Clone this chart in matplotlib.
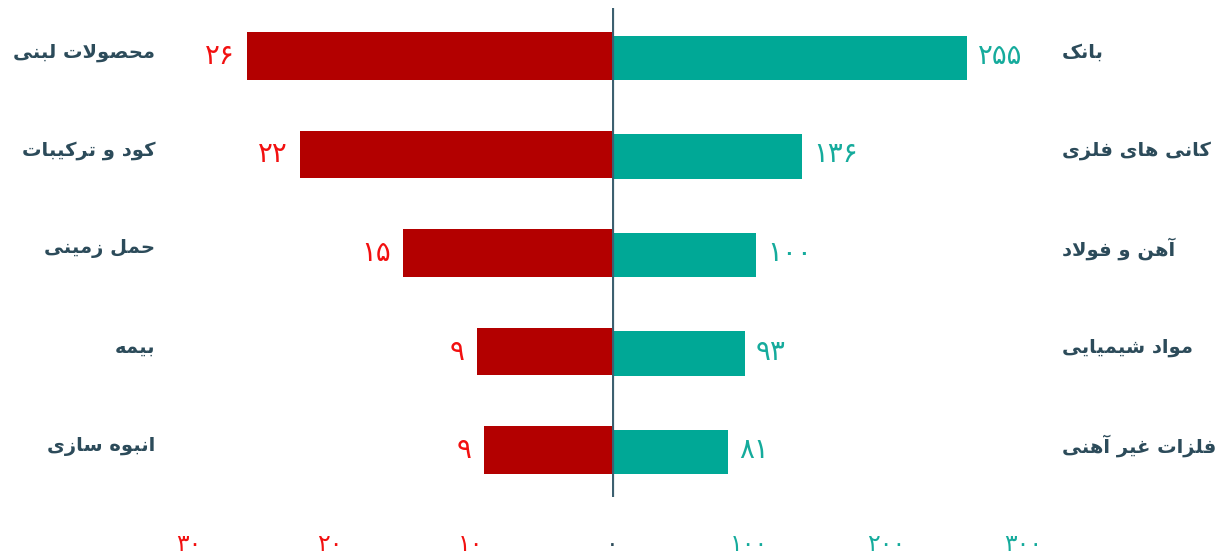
"""
Diverging bar chart: sectors with red (left) and teal (right) values
"""

import matplotlib
matplotlib.use("Agg")
import matplotlib.pyplot as plt

# data
left_labels = ["محصولات لبنی", "کود و ترکیبات", "حمل زمینی", "بیمه", "انبوه سازی"]
left_values = [25.9, 22.1, 14.8, 9.6, 9.1]
left_text = ["۲۶", "۲۲", "۱۵", "۹", "۹"]

right_labels = ["بانک", "کانی های فلزی", "آهن و فولاد", "مواد شیمیایی", "فلزات غیر آهنی"]
right_values = [259, 139, 105, 97, 85]
right_text = ["۲۵۵", "۱۳۶", "۱۰۰", "۹۳", "۸۱"]

left_ticks = [10, 20, 30]
left_tick_text = ["۱۰", "۲۰", "۳۰"]
right_ticks = [0, 100, 200, 300]
right_tick_text = ["۰", "۱۰۰", "۲۰۰", "۳۰۰"]

RED = "#b30000"
RED_TEXT = "#f21010"
TEAL = "#00a896"
TEAL_TEXT = "#15ab9c"
SLATE = "#2c4b5a"

# minimal arabic shaping (matplotlib has no complex text layout)
FORMS = {
    "ا": ("\uFE8D", "\uFE8E", None, None),
    "آ": ("\uFE81", "\uFE82", None, None),
    "ب": ("\uFE8F", "\uFE90", "\uFE91", "\uFE92"),
    "ت": ("\uFE95", "\uFE96", "\uFE97", "\uFE98"),
    "ح": ("\uFEA1", "\uFEA2", "\uFEA3", "\uFEA4"),
    "د": ("\uFEA9", "\uFEAA", None, None),
    "ر": ("\uFEAD", "\uFEAE", None, None),
    "ز": ("\uFEAF", "\uFEB0", None, None),
    "س": ("\uFEB1", "\uFEB2", "\uFEB3", "\uFEB4"),
    "ش": ("\uFEB5", "\uFEB6", "\uFEB7", "\uFEB8"),
    "ص": ("\uFEB9", "\uFEBA", "\uFEBB", "\uFEBC"),
    "غ": ("\uFECD", "\uFECE", "\uFECF", "\uFED0"),
    "ف": ("\uFED1", "\uFED2", "\uFED3", "\uFED4"),
    "ل": ("\uFEDD", "\uFEDE", "\uFEDF", "\uFEE0"),
    "م": ("\uFEE1", "\uFEE2", "\uFEE3", "\uFEE4"),
    "ن": ("\uFEE5", "\uFEE6", "\uFEE7", "\uFEE8"),
    "ه": ("\uFEE9", "\uFEEA", "\uFEEB", "\uFEEC"),
    "و": ("\uFEED", "\uFEEE", None, None),
    "ی": ("\uFBFC", "\uFBFD", "\uFBFE", "\uFBFF"),
    "ک": ("\uFB8E", "\uFB8F", "\uFB90", "\uFB91"),
}
LAM_ALEF = {"ا": ("\uFEFB", "\uFEFC"), "آ": ("\uFEF5", "\uFEF6")}


def shape(text):
    # merge lam + alef into one token first
    chars = []
    i = 0
    while i < len(text):
        if text[i] == "ل" and i + 1 < len(text) and text[i + 1] in LAM_ALEF:
            chars.append(("LA", text[i + 1]))
            i += 2
        else:
            chars.append((text[i], None))
            i += 1

    def joins_forward(tok):
        c, _ = tok
        return c in FORMS and FORMS[c][2] is not None

    def is_letter(tok):
        return tok[0] in FORMS or tok[0] == "LA"

    out = []
    for k, tok in enumerate(chars):
        c, extra = tok
        prev_join = k > 0 and joins_forward(chars[k - 1])
        if c == "LA":
            out.append(LAM_ALEF[extra][1 if prev_join else 0])
            continue
        if c not in FORMS:
            out.append(c)
            continue
        f = FORMS[c]
        next_join = f[2] is not None and k + 1 < len(chars) and is_letter(chars[k + 1])
        if prev_join and next_join:
            out.append(f[3])
        elif prev_join:
            out.append(f[1])
        elif next_join:
            out.append(f[2])
        else:
            out.append(f[0])
    return "".join(out)[::-1]


plt.rcParams["font.family"] = ["DejaVu Sans"]

fig = plt.figure(figsize=(12.3, 5.57), dpi=100)
W, H = 1230, 557

# axes geometry in pixels
x_left, x_mid, x_right = 165, 612, 1045
y_top, y_bot = 8, 497
axl = fig.add_axes([x_left / W, 1 - y_bot / H, (x_mid - x_left) / W, (y_bot - y_top) / H])
axr = fig.add_axes([x_mid / W, 1 - y_bot / H, (x_right - x_mid) / W, (y_bot - y_top) / H])

rows = list(range(len(left_values)))
step = 98.5
ylim = (4 + (y_bot - 450) / step, -(56 - y_top) / step)

axl.barh(rows, left_values, height=0.48, color=RED)
axr.barh([r + 0.02 for r in rows], right_values, height=0.45, color=TEAL)

axl.set_xlim(447 / 14.1, 0)
axr.set_xlim(0, 433 / 1.37)
for ax in (axl, axr):
    ax.set_ylim(*ylim)
    ax.set_yticks([])
    for s in ax.spines.values():
        s.set_visible(False)
    ax.tick_params(axis="x", length=0, pad=25, labelsize=17)

axr.axvline(0, color="#3c6070", lw=2.3, zorder=5)

axl.set_xticks(left_ticks)
axl.set_xticklabels(left_tick_text, color=RED_TEXT)
axr.set_xticks(right_ticks)
axr.set_xticklabels(right_tick_text, color=TEAL_TEXT)
axr.get_xticklabels()[0].set_color(SLATE)

for r, v, t in zip(rows, left_values, left_text):
    axl.annotate(t, (v, r), xytext=(-9, 0), textcoords="offset points",
                 ha="right", va="center", color=RED_TEXT, fontsize=20)
for r, v, t in zip(rows, right_values, right_text):
    axr.annotate(t, (v, r), xytext=(8, 0), textcoords="offset points",
                 ha="left", va="center", color=TEAL_TEXT, fontsize=20)

for r, lab in zip(rows, left_labels):
    y = 1 - (56 + r * step - 4) / H
    fig.text(155 / W, y, shape(lab), ha="right", va="center",
             color=SLATE, fontsize=14, fontweight="bold")
for r, lab in zip(rows, right_labels):
    y = 1 - (56 + r * step - 4) / H
    fig.text(1062 / W, y, shape(lab), ha="left", va="center",
             color=SLATE, fontsize=14, fontweight="bold")

fig.savefig("out.png", dpi=100)
